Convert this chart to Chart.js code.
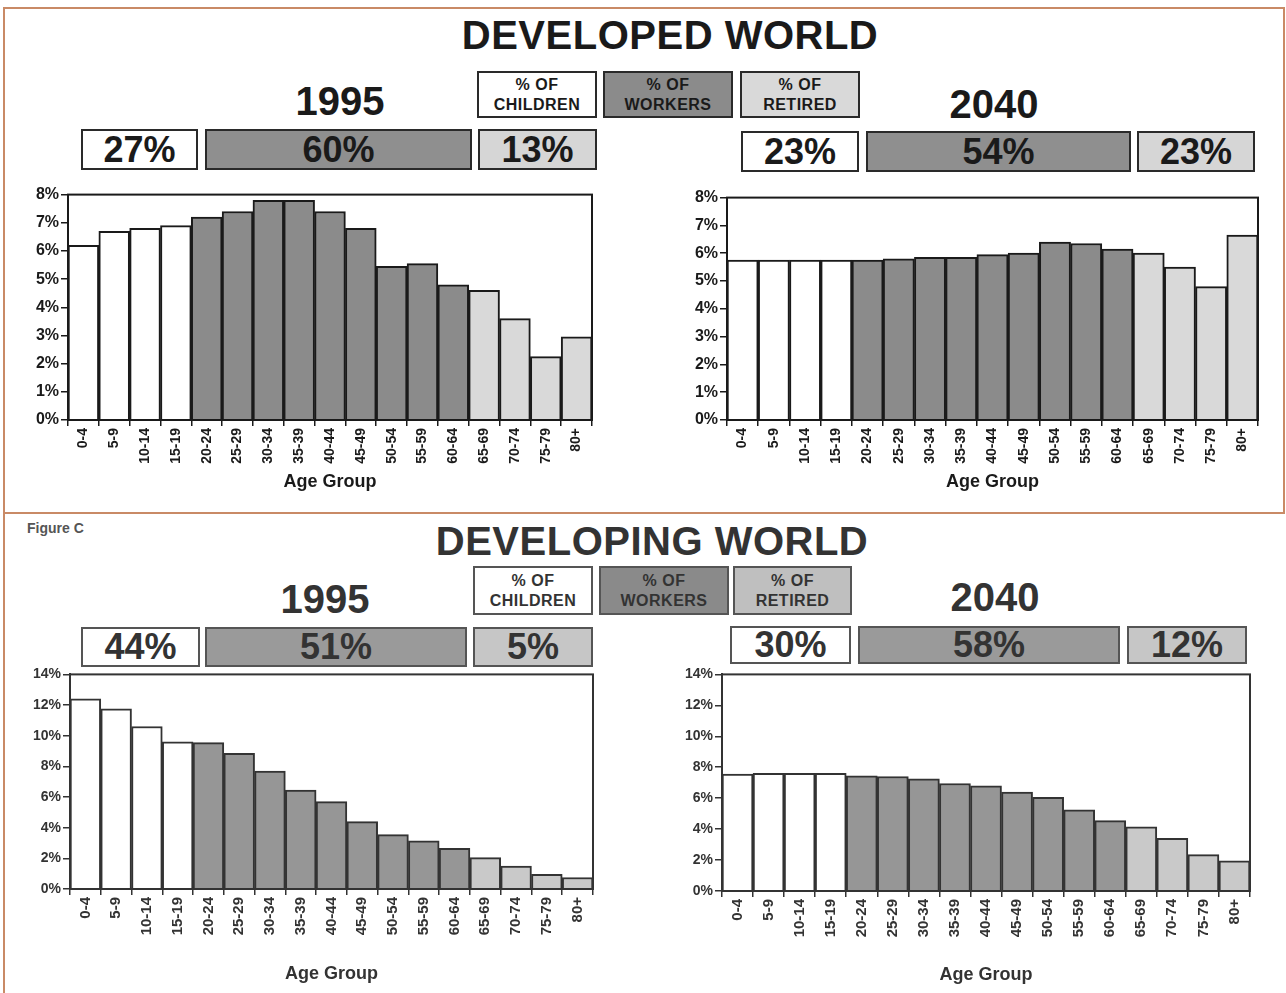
<!DOCTYPE html>
<html>
<head>
<meta charset="utf-8">
<script src="https://cdn.jsdelivr.net/npm/chart.js@4.4.1/dist/chart.umd.min.js"></script>
<style>
  html, body { margin:0; padding:0; background:#fff; }
  body { width:1286px; height:993px; position:relative; overflow:hidden; font-family:"Liberation Sans", Arial, sans-serif; color:#1a1a1a; }
  .abs { position:absolute; }
  .frameTop { left:3px; top:7px; width:1278px; height:503px; border:2px solid #c98a66; }
  .frameBot { left:3px; top:512px; width:0; height:481px; border-left:2px solid #c98a66; }
  .title { font-weight:bold; font-size:40px; text-align:center; transform:translate(-50%,-50%); white-space:nowrap; letter-spacing:0.5px; }
  .year { font-weight:bold; font-size:40px; transform:translate(-50%,-50%); }
  .box { box-sizing:border-box; border:2px solid #2a2a2a; display:flex; align-items:center; justify-content:center; text-align:center; font-weight:bold; }
  .leg { font-size:16px; line-height:20px; letter-spacing:0.5px; }
  .pct { font-size:36px; }
  .fig { font-weight:bold; font-size:14px; color:#555; }
  canvas { position:absolute; }
  .lo .box { border-color:#555; color:#333; }
  .lo .title, .lo .year { color:#333; }
</style>
</head>
<body>
<div class="abs frameTop"></div>
<div class="abs frameBot"></div>

<div id="topSec"></div>
<div id="botSec" class="lo"></div>

<canvas id="c1" width="580" height="312" style="left:20px;top:183px;width:580px;height:312px"></canvas>
<canvas id="c2" width="590" height="309" style="left:680px;top:186px;width:590px;height:309px"></canvas>
<canvas id="c3" width="580" height="323" style="left:20px;top:664px;width:580px;height:323px"></canvas>
<canvas id="c4" width="590" height="324" style="left:670px;top:664px;width:590px;height:324px"></canvas>

<script>
// ---------- DATA ----------
const ageGroups = ['0-4','5-9','10-14','15-19','20-24','25-29','30-34','35-39','40-44','45-49','50-54','55-59','60-64','65-69','70-74','75-79','80+'];
const ageRoles  = ['children','children','children','children','workers','workers','workers','workers','workers','workers','workers','workers','workers','retired','retired','retired','retired'];

const developed1995  = [6.2, 6.7, 6.8, 6.9, 7.2, 7.4, 7.8, 7.8, 7.4, 6.8, 5.45, 5.55, 4.8, 4.6, 3.6, 2.25, 2.95];
const developed2040  = [5.75, 5.75, 5.75, 5.75, 5.75, 5.8, 5.85, 5.85, 5.95, 6.0, 6.4, 6.35, 6.15, 6.0, 5.5, 4.8, 6.65];
const developing1995 = [12.4, 11.75, 10.6, 9.6, 9.55, 8.85, 7.7, 6.45, 5.7, 4.4, 3.55, 3.15, 2.65, 2.05, 1.5, 0.95, 0.75];
const developing2040 = [7.55, 7.6, 7.6, 7.6, 7.45, 7.4, 7.25, 6.95, 6.8, 6.4, 6.05, 5.25, 4.55, 4.15, 3.4, 2.35, 1.95];

const shareLabels = ['% OF\nCHILDREN', '% OF\nWORKERS', '% OF\nRETIRED'];
const developed1995Share  = [27, 60, 13];
const developed2040Share  = [23, 54, 23];
const developing1995Share = [44, 51, 5];
const developing2040Share = [30, 58, 12];

const sectionTitles = ['DEVELOPED WORLD', 'DEVELOPING WORLD'];
const years = ['1995', '2040'];
const xAxisTitle = 'Age Group';

// ---------- STYLE ----------
const roleColorsTop = { children:'#ffffff', workers:'#8b8b8b', retired:'#d9d9d9' };
const roleColorsBot = { children:'#ffffff', workers:'#969696', retired:'#c9c9c9' };
const FONT = '"Liberation Sans", Arial, sans-serif';

function el(parent, cls, style, html) {
  const d = document.createElement('div');
  d.className = 'abs ' + cls;
  Object.assign(d.style, style);
  d.innerHTML = html;
  parent.appendChild(d);
  return d;
}
function boxes(parent, shares, geom, colors, cls) {
  const roles = ['children','workers','retired'];
  shares.forEach((v, i) => {
    const g = geom[i];
    el(parent, 'box ' + cls, {left:g[0]+'px', top:g[1]+'px', width:(g[2]-g[0])+'px', height:(g[3]-g[1])+'px', background:colors[roles[i]]},
      typeof v === 'number' ? v + '%' : v.replace('\n','<br>'));
  });
}

const topSec = document.getElementById('topSec');
const botSec = document.getElementById('botSec');
el(topSec, 'title', {left:'670px', top:'35px'}, sectionTitles[0]);
el(topSec, 'year', {left:'340px', top:'101px'}, years[0]);
el(topSec, 'year', {left:'994px', top:'104px'}, years[1]);
boxes(topSec, shareLabels, [[477,71,597,118],[603,71,733,118],[740,71,860,118]], roleColorsTop, 'leg');
boxes(topSec, developed1995Share, [[81,129,198,170],[205,129,472,170],[478,129,597,170]], {children:'#fff',workers:'#8f8f8f',retired:'#d6d6d6'}, 'pct');
boxes(topSec, developed2040Share, [[741,131,859,172],[866,131,1131,172],[1137,131,1255,172]], {children:'#fff',workers:'#8f8f8f',retired:'#d6d6d6'}, 'pct');

el(botSec, 'fig', {left:'27px', top:'520px'}, 'Figure C');
el(botSec, 'title', {left:'652px', top:'541px'}, sectionTitles[1]);
el(botSec, 'year', {left:'325px', top:'599px'}, years[0]);
el(botSec, 'year', {left:'995px', top:'597px'}, years[1]);
boxes(botSec, shareLabels, [[473,566,593,615],[599,566,729,615],[733,566,852,615]], {children:'#fff',workers:'#8a8a8a',retired:'#bfbfbf'}, 'leg');
boxes(botSec, developing1995Share, [[81,627,200,667],[205,627,467,667],[473,627,593,667]], {children:'#fff',workers:'#9a9a9a',retired:'#c6c6c6'}, 'pct');
boxes(botSec, developing2040Share, [[730,626,851,664],[858,626,1120,664],[1127,626,1247,664]], {children:'#fff',workers:'#9a9a9a',retired:'#c6c6c6'}, 'pct');

// ---------- CHARTS ----------
const frame = {
  id:'frame',
  afterDatasetsDraw(chart, args, opts) {
    const a = chart.chartArea, c = chart.ctx;
    c.save(); c.strokeStyle = opts.color; c.lineWidth = 2;
    c.strokeRect(a.left, a.top, a.right - a.left, a.bottom - a.top);
    c.restore();
  }
};

function makeChart(id, values, colors, yMax, yStep, g, ink, tickSize, xTickSize) {
  return new Chart(document.getElementById(id), {
    type:'bar',
    data:{ labels:ageGroups, datasets:[{
      data:values,
      backgroundColor: ageRoles.map(r => colors[r]),
      borderColor: ink, borderWidth:2,
      barPercentage:1, categoryPercentage:1
    }]},
    options:{
      responsive:false, animation:false, devicePixelRatio:1,
      layout:{ padding:{ top:g.top, right:g.right, left:0, bottom:0 } },
      plugins:{ legend:{display:false}, tooltip:{enabled:false}, frame:{color:ink} },
      scales:{
        x:{
          grid:{ display:true, drawOnChartArea:false, drawTicks:true, tickLength:6, color:ink, lineWidth:1.5 },
          border:{ display:true, color:ink, width:2 },
          ticks:{ color:ink, font:{family:FONT, size:xTickSize, weight:'bold'}, minRotation:90, maxRotation:90, autoSkip:false, padding:2 },
          title:{ display:true, text:xAxisTitle, color:ink, font:{family:FONT, size:18, weight:'bold'}, padding:{top:0,bottom:2} },
          afterFit(s){ s.height = g.xh; }
        },
        y:{
          min:0, max:yMax,
          grid:{ display:true, drawOnChartArea:false, drawTicks:true, tickLength:7, color:ink, lineWidth:1.5 },
          border:{ display:true, color:ink, width:2 },
          ticks:{ stepSize:yStep, color:ink, font:{family:FONT, size:tickSize, weight:'bold'}, padding:2, callback:v => v + '%' },
          afterFit(s){ s.width = g.yw; }
        }
      }
    },
    plugins:[frame]
  });
}

makeChart('c1', developed1995,  roleColorsTop, 8, 1,  {top:10, right:8,  yw:48, xh:75}, '#1a1a1a', 16, 14);
makeChart('c2', developed2040,  roleColorsTop, 8, 1,  {top:10, right:12, yw:47, xh:75}, '#1a1a1a', 16, 14);
makeChart('c3', developing1995, roleColorsBot, 14, 2, {top:10, right:7,  yw:50, xh:98}, '#333333', 14, 15);
makeChart('c4', developing2040, roleColorsBot, 14, 2, {top:10, right:10, yw:52, xh:97}, '#333333', 14, 15);
</script>
</body>
</html>
